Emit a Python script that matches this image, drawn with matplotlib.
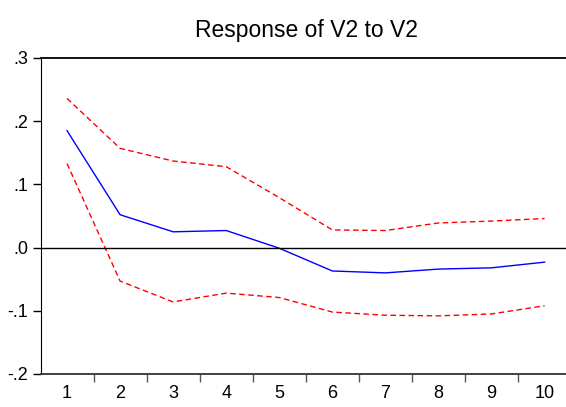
import numpy as np
import matplotlib
matplotlib.use("Agg")
import matplotlib.pyplot as plt
from matplotlib.ticker import FixedLocator

plt.rcParams['font.family'] = ['Liberation Sans', 'DejaVu Sans']

# data
periods = [1, 2, 3, 4, 5, 6, 7, 8, 9, 10]
response = [0.185, 0.052, 0.025, 0.027, -0.001, -0.037, -0.040, -0.034, -0.032, -0.023]
upper = [0.236, 0.157, 0.137, 0.128, 0.079, 0.028, 0.027, 0.039, 0.042, 0.046]
lower = [0.133, -0.053, -0.086, -0.072, -0.079, -0.102, -0.107, -0.108, -0.105, -0.092]
yticks = [-0.2, -0.1, 0.0, 0.1, 0.2, 0.3]
ylabels = ['-.2', '-.1', '.0', '.1', '.2', '.3']

fig = plt.figure(figsize=(5.66, 4.07), dpi=100)
ax = fig.add_axes([40.5/566, 1 - 374/407, 1 - 40.5/566 + 0.01, 316/407])

x = np.arange(len(periods))
ax.plot(x, response, '-', color='blue', lw=1.0)
ax.plot(x, upper, '--', color='red', lw=1.0, dashes=(4, 2.5))
ax.plot(x, lower, '--', color='red', lw=1.0, dashes=(4, 2.5))
ax.axhline(0, color='black', lw=1.0)

ax.set_xlim(-0.5, len(periods) - 0.5 + 0.01)
ax.set_ylim(-0.2, 0.3)
ax.set_yticks(yticks)
ax.set_yticklabels(ylabels)
ax.set_xticks(x)
ax.set_xticklabels([str(p) for p in periods])
ax.xaxis.set_minor_locator(FixedLocator(x[:-1] + 0.5))
ax.tick_params(axis='x', which='major', length=0, pad=8, labelsize=13)
ax.tick_params(axis='x', which='minor', length=6, color='#555555', width=1)
ax.tick_params(axis='y', length=6, width=1, labelsize=13, pad=3)
ax.spines['right'].set_visible(False)
ax.spines['top'].set_linewidth(1.3)
ax.spines['bottom'].set_linewidth(1.3)
ax.spines['bottom'].set_color('#333333')
ax.set_title('Response of V2 to V2', fontsize=16.5, pad=15)

fig.savefig('out.png', dpi=100)
